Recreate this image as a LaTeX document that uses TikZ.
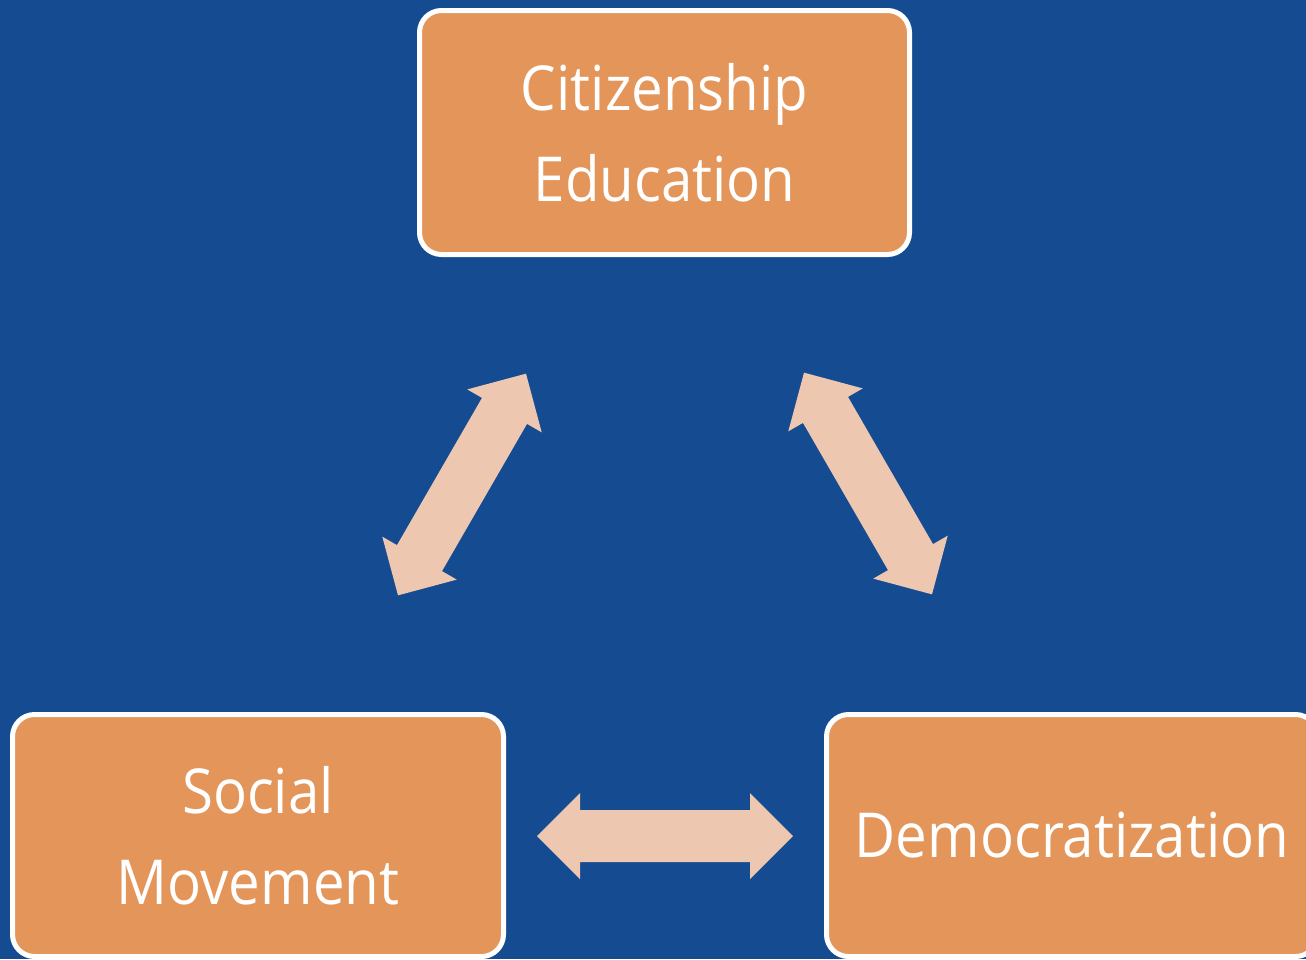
\documentclass[tikz,border=0pt]{standalone}
\usepackage{fontspec}
\setmainfont{Open Sans}[FakeStretch=0.91]
\definecolor{bgblue}{HTML}{144B91}
\definecolor{boxorange}{HTML}{E3955A}
\definecolor{arrowpeach}{HTML}{EEC7B1}
\tikzset{
  topic/.style={draw=white, line width=5pt, fill=boxorange, rounded corners=22pt,
    text=white, align=center, inner sep=0pt,
    font=\fontsize{62}{91}\selectfont},
  pics/dblarrow/.style={code={
    \fill[arrowpeach] (-128,0) -- (-85,43) -- (-85,26) -- (85,26) -- (85,43) -- (128,0)
      -- (85,-43) -- (85,-26) -- (-85,-26) -- (-85,-43) -- cycle;
  }}
}
\begin{document}
\begin{tikzpicture}[x=1pt,y=-1pt]
\useasboundingbox (0,0) rectangle (1306,959);
\fill[bgblue] (0,0) rectangle (1306,959);
\begin{scope}
\clip (0,0) rectangle (1306,959);
\node[topic, minimum width=490pt, minimum height=244pt] (cit) at (664.5,132.5) {Citizenship\\Education};
\node[topic, minimum width=491pt, minimum height=242pt] (soc) at (258,835.5) {Social\\Movement};
\node[topic, minimum width=491pt, minimum height=242pt] (dem) at (1072,835.5) {Democratization};
\end{scope}
\coordinate (a1) at (462,484.5);
\coordinate (a2) at (868,483.5);
\coordinate (a3) at (665,836);
\pic[rotate=60] at (a1) {dblarrow};
\pic[rotate=-60] at (a2) {dblarrow};
\pic at (a3) {dblarrow};
\end{tikzpicture}
\end{document}
